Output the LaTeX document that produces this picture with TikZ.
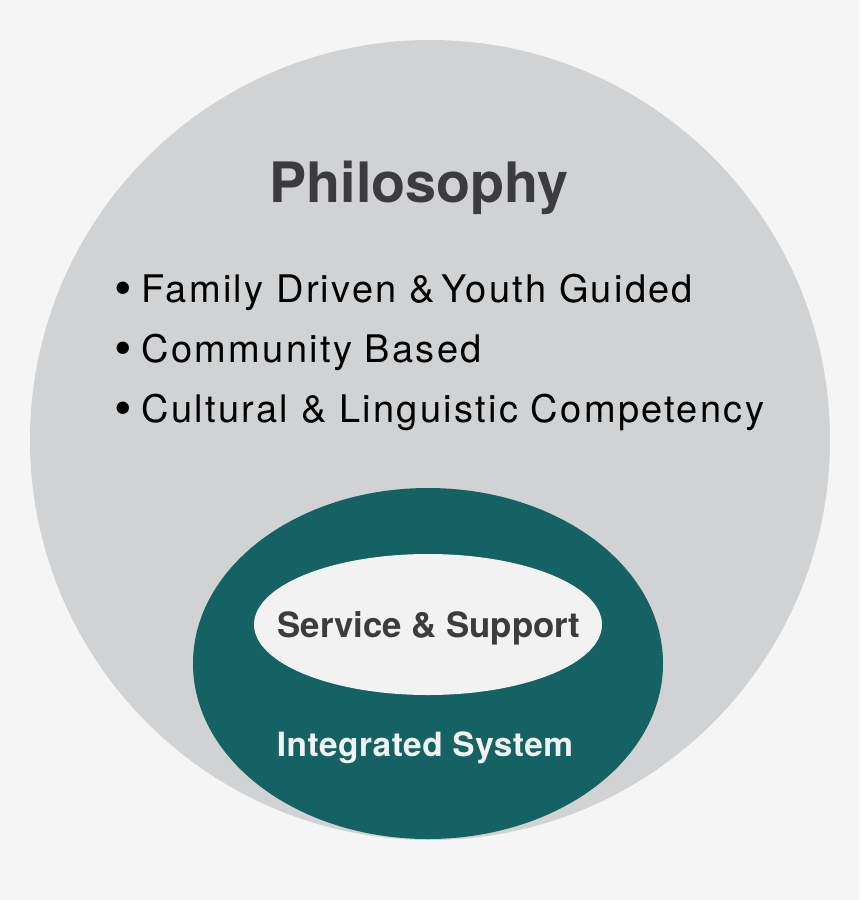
\documentclass[tikz,border=0pt]{standalone}
\usepackage{fontspec}
\setmainfont{TeX Gyre Heros}
\newfontfamily\listfont{TeX Gyre Heros}[LetterSpace=6]
\usepackage{tikz}
\usetikzlibrary{positioning}

\definecolor{bgpaper}{HTML}{F5F5F5}
\definecolor{philgray}{HTML}{D1D2D4}
\definecolor{systeal}{HTML}{156264}
\definecolor{svcwhite}{HTML}{F2F2F2}
\definecolor{headtext}{HTML}{3C3C3E}

\newcommand{\listdot}{\raisebox{-3.5pt}{\fontsize{50}{50}\selectfont\textbullet}\hspace{10pt}}

\tikzset{
  listitem/.style={anchor=base west,inner sep=0pt,font=\listfont\fontsize{38}{40}\selectfont,text=black},
  boldlabel/.style={anchor=base,inner sep=0pt,font=\bfseries\fontsize{#1}{#1}\selectfont},
}

\begin{document}
\begin{tikzpicture}[x=1pt,y=-1pt]
  \fill[bgpaper] (0,0) rectangle (860,900); % 背景
  \useasboundingbox (0,0) rectangle (860,900);
  \fill[philgray] (430,440) circle[radius=400]; % 理念を表す大きな円
  \fill[systeal] (428,663.5) ellipse[x radius=235,y radius=175.5]; % 統合システムの楕円
  \fill[svcwhite] (428,624.5) ellipse[x radius=174,y radius=70.5]; % サービスと支援の楕円
  \node[boldlabel=55.7,text=headtext] (philo) at (419,202) {Philosophy}; % 見出し
  \node[listitem] (family) at (114,302) {\listdot Family Driven \&\,Youth Guided}; % 1つ目の項目
  \node[listitem] (community) at (114,362) {\listdot Community Based}; % 2つ目の項目
  \node[listitem] (cultural) at (114,422) {\listdot Cultural \& Linguistic Competency}; % 3つ目の項目
  \node[boldlabel=34.8,text=headtext] (service) at (429,637) {Service \& Support}; % 内側の楕円の文字
  \node[boldlabel=33.4,text=svcwhite] (system) at (425,756) {\addfontfeature{LetterSpace=1.5}Integrated System}; % 外側の楕円の文字
\end{tikzpicture}
\end{document}
